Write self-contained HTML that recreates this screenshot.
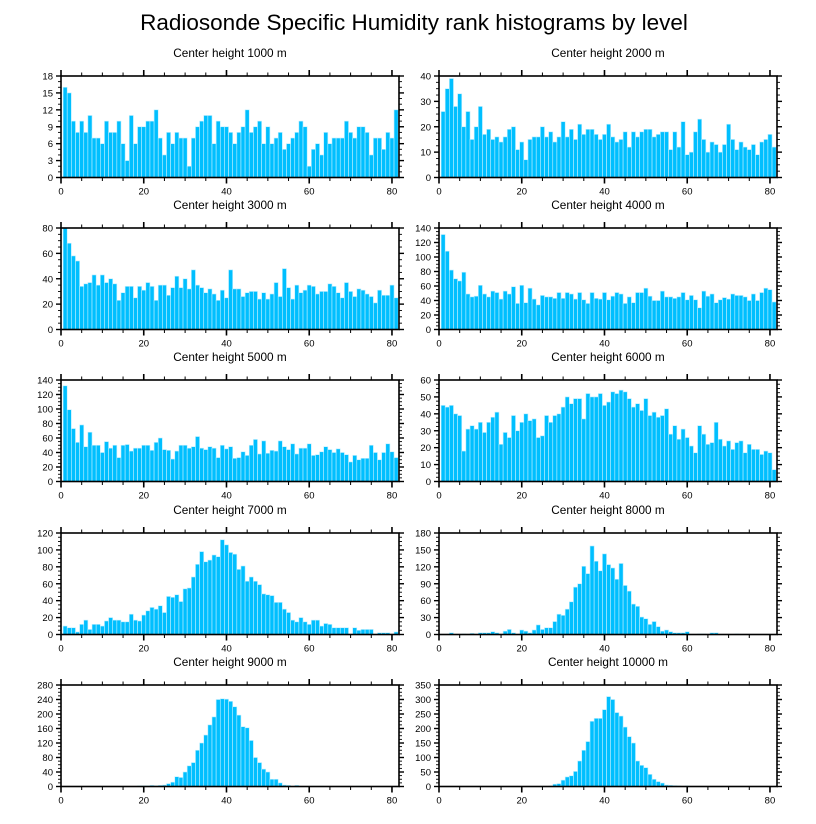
<!DOCTYPE html>
<html><head><meta charset="utf-8"><style>
html,body{margin:0;padding:0;background:#fff}
svg{display:block;font-family:"Liberation Sans",sans-serif}
</style></head><body>
<svg id="c" width="816" height="824">
<text x="414" y="30" font-size="22.5" text-anchor="middle">Radiosonde Specific Humidity rank histograms by level</text>
</svg>
<script>
const levels=["1000","2000","3000","4000","5000","6000","7000","8000","9000","10000"];
const yMaxes=[18,40,80,140,140,60,120,180,280,350];
const yMajors=[3,10,20,20,20,10,20,30,40,50];
const xTicks=[0,20,40,60,80];
const h1000=[16,15,10,8,10,8,11,7,7,6,10,8,8,10,6,3,11,6,9,9,10,10,12,7,4,8,6,8,7,7,2,7,9,10,11,11,6,10,9,9,8,6,8,9,12,8,9,10,6,9,6,7,8,5,6,7,8,10,9,2,5,6,4,8,6,7,7,7,10,8,7,9,9,8,4,7,7,5,8,7,12];
const h2000=[26,35,39,28,33,20,26,15,20,28,17,19,15,16,14,16,19,20,11,14,7,15,16,16,20,16,18,14,16,22,16,19,15,21,17,19,19,17,15,17,21,16,14,15,18,12,18,16,18,19,19,16,17,18,18,11,18,12,22,9,10,18,23,15,10,14,13,10,13,21,15,11,14,12,11,13,9,14,15,17,12];
const h3000=[80,68,58,54,34,36,37,43,35,43,37,40,36,23,29,34,34,25,34,31,37,34,23,35,35,27,33,42,33,40,32,47,35,33,29,32,28,23,31,25,47,32,32,26,29,30,30,24,29,24,28,37,26,48,33,24,35,29,31,35,34,28,30,30,36,34,29,25,37,30,26,32,31,28,26,21,31,27,27,35,25];
const h4000=[131,108,82,70,67,79,49,45,46,61,49,45,53,51,42,53,49,59,36,61,37,57,42,34,47,45,45,43,51,43,51,49,42,51,41,36,51,43,42,51,41,46,51,49,36,45,37,51,51,57,46,40,40,53,45,45,43,45,51,41,47,41,30,53,46,49,37,41,44,42,49,47,47,45,40,49,40,51,57,55,38];
const h5000=[132,99,73,54,78,48,68,50,50,40,55,46,50,33,50,51,42,46,46,50,50,43,54,60,44,43,31,42,50,50,46,48,62,46,44,48,46,33,50,45,48,32,33,41,36,50,58,38,56,39,43,42,56,48,44,52,38,46,46,52,36,37,41,48,44,40,45,40,37,27,36,30,32,32,50,40,30,40,52,41,33];
const h6000=[45,44,45,40,39,18,31,33,31,35,29,35,38,41,22,29,26,39,30,35,40,36,37,26,27,39,35,39,40,44,50,46,49,49,37,52,50,50,52,45,47,53,52,54,53,49,44,46,42,49,39,41,38,39,43,28,33,25,31,26,21,17,33,28,22,23,35,25,21,24,19,23,24,17,22,19,19,16,18,17,7];
const h7000=[10,8,8,3,12,17,6,12,12,10,16,20,17,17,15,15,24,17,16,23,28,32,30,34,26,45,44,47,39,54,55,68,83,98,86,88,94,92,112,106,97,95,77,81,63,68,63,59,48,47,46,38,38,30,26,17,15,20,15,12,17,17,10,13,12,8,8,8,8,0,8,5,6,6,6,0,2,2,2,0,3];
const h8000=[0,0,3,0,0,1,0,2,0,3,3,3,5,3,0,6,9,3,0,8,6,3,8,17,9,12,12,23,36,34,45,58,84,90,121,108,157,130,113,143,124,118,98,126,87,77,54,50,31,28,18,23,14,6,8,5,3,3,3,5,0,0,1,1,0,3,3,0,0,0,0,1,0,0,0,0,0,0,0,0,0];
const h9000=[0,0,0,0,0,0,0,0,0,0,0,0,0,0,0,0,0,0,2,2,2,3,2,3,4,8,12,27,25,40,57,66,100,120,142,170,192,240,242,241,235,220,197,165,162,127,80,66,48,40,20,20,10,4,3,0,3,0,0,0,1,0,1,0,0,0,0,0,0,0,0,1,0,0,0,0,0,0,0,0,0];
const h10000=[0,0,0,0,0,0,0,0,0,0,0,0,0,0,0,0,0,0,0,0,0,0,0,0,1,0,2,8,10,22,33,37,52,88,125,155,225,235,235,265,310,300,255,243,205,172,150,88,73,65,42,25,17,12,5,4,3,2,0,2,0,0,0,0,0,0,0,0,0,0,0,0,0,0,0,0,0,0,0,0,0];
const series=[h1000,h2000,h3000,h4000,h5000,h6000,h7000,h8000,h9000,h10000];

const NS="http://www.w3.org/2000/svg";
const svg=document.getElementById('c');
function mk(tag,attrs,parent){const e=document.createElementNS(NS,tag);for(const k in attrs)e.setAttribute(k,attrs[k]);parent.appendChild(e);return e;}
const X0=[61,439],XW=[338,338],Y0=[76,228,380,533,685],PH=101.5,XMAX=81.7;
series.forEach((data,p)=>{
  const col=p%2,row=Math.floor(p/2);
  const left=X0[col],w=XW[col],top=Y0[row],bot=top+PH;
  const xs=v=>left+v/XMAX*w;
  const ys=v=>bot-v/yMaxes[p]*PH;
  const g=mk('g',{},svg);
  
  
  const t=mk('text',{x:left+w/2,y:top-19,'font-size':11.8,'text-anchor':'middle'},g);
  t.textContent='Center height '+levels[p]+' m';
  
  
  data.forEach((v,i)=>{
    const k=i+1;
    const x1=xs(k-0.5),x2=xs(k+0.5);
    const r=mk('rect',{x:x1,y:ys(v),width:x2-x1,height:bot-ys(v),fill:'#00bfff',stroke:'#bfefff','stroke-width':0.6},g);
    
    
  });
  const fr=mk('rect',{x:left,y:top,width:w,height:PH,fill:'none',stroke:'#000','stroke-width':1.6},g);
  
  
  for(let v=0;v<=80;v+=5){
    const x=xs(v),maj=v%20===0,L=maj?6:3.5;
    mk('line',{x1:x,x2:x,y1:bot,y2:bot+L,stroke:'#000','stroke-width':maj?1.6:1},g);
    mk('line',{x1:x,x2:x,y1:top,y2:top-L,stroke:'#000','stroke-width':maj?1.6:1},g);
  }
  xTicks.forEach(v=>{
    const tl=mk('text',{x:xs(v),y:bot+17,'font-size':9.5,'text-anchor':'middle'},g);
    tl.textContent=v;
    
    
  });
  const maj=yMajors[p],minor=p===0?1:maj/4;
  for(let v=0;v<=yMaxes[p]+1e-6;v+=minor){
    const y=ys(v),isM=Math.abs(v/maj-Math.round(v/maj))<1e-6,L=isM?5:3;
    mk('line',{x1:left,x2:left-L,y1:y,y2:y,stroke:'#000','stroke-width':isM?1.4:0.9},g);
    mk('line',{x1:left+w,x2:left+w+L,y1:y,y2:y,stroke:'#000','stroke-width':isM?1.4:0.9},g);
    if(isM){
      const tl=mk('text',{x:left-8,y:y+3.5,'font-size':9.5,'text-anchor':'end'},g);
      tl.textContent=Math.round(v);
      
      
    }
  }
});
</script>
</body></html>
